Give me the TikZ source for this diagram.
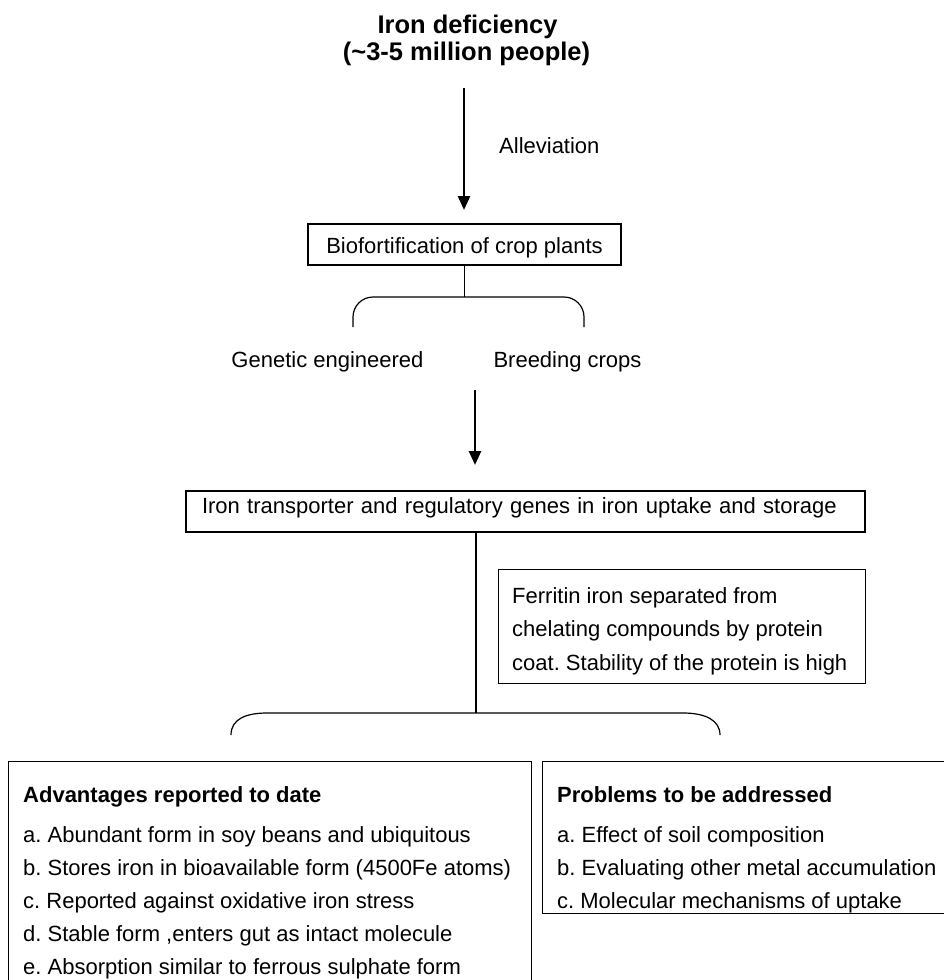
\documentclass[tikz,border=0pt]{standalone}
\usepackage{fontspec}
\setmainfont{Liberation Sans}
\usetikzlibrary{arrows.meta,positioning}
\frenchspacing

\tikzset{
  txt/.style={inner sep=0pt, font=\fontsize{22}{33}\selectfont},
  headtxt/.style={inner sep=0pt, font=\bfseries\fontsize{25.5}{27}\selectfont},
  frame/.style={draw, line width=1.3pt, inner sep=0pt, font=\fontsize{22}{33}\selectfont},
  listtxt/.style={txt, align=left},
  link/.style={line width=1.2pt},
  bigarrow/.style={line width=2.6pt, -{Triangle[width=12pt,length=14pt]}}
}

\begin{document}
\begin{tikzpicture}[x=1pt, y=-1pt]
    \useasboundingbox (0,0) rectangle (943,980);

    \node[headtxt, anchor=base] (title1) at (467.5,33) {Iron deficiency};
    \node[headtxt, anchor=base] (title2) at (466.5,60) {(\textasciitilde3-5 million people)};
    \node[txt, anchor=base west] (allev) at (499,153) {Alleviation};

    \node[frame, minimum width=313pt, text height=29pt, text depth=12pt] (bio) at (464.5,244.5) {Biofortification of crop plants};

    \node[txt, anchor=base] (gen) at (327.5,367) {Genetic engineered};
    \node[txt, anchor=base] (breed) at (567.5,367) {Breeding crops};

    \node[frame, text width=647pt, align=left, inner xsep=16pt, text height=22pt, text depth=19pt] (iron) at (525.5,511.5) {Iron transporter and regulatory genes in iron uptake and storage};

    \node[frame, anchor=north west, minimum width=367pt, minimum height=114pt] (ferrbox) at (498,569) {};
    \node[listtxt, font=\fontsize{22}{33.5}\selectfont, below right=18pt and 14pt of ferrbox.north west] (ferrtext) {Ferritin iron separated from\\chelating compounds by protein\\coat. Stability of the protein is high};

    \node[frame, anchor=north west, minimum width=523pt, minimum height=235pt] (advbox) at (8,761) {};
    \node[listtxt, below right=25pt and 15pt of advbox.north west] (advtext) {{\bfseries Advantages reported to date}\\[7pt]
      a. Abundant form in soy beans and ubiquitous\\
      b. Stores iron in bioavailable form (4500Fe atoms)\\
      c. Reported against oxidative iron stress\\
      d. Stable form ,enters gut as intact molecule\\
      e. Absorption similar to ferrous sulphate form};

    \node[frame, anchor=north west, minimum width=412pt, minimum height=152pt] (probbox) at (542,761) {};
    \node[listtxt, below right=25pt and 15pt of probbox.north west] (probtext) {{\bfseries Problems to be addressed}\\[7pt]
      a. Effect of soil composition\\
      b. Evaluating other metal accumulation\\
      c. Molecular mechanisms of uptake};

    % arrows
    \coordinate (a1s) at (464,88);
    \coordinate (a1e) at (464,210);
    \coordinate (a2s) at (475,390);
    \coordinate (a2e) at (475,465);
    \draw[bigarrow] (a1s) -- (a1e);
    \draw[bigarrow] (a2s) -- (a2e);

    % braces
    \coordinate (br1) at (464.5,297);
    \coordinate (br2) at (476,713);
    \draw[link] (bio.south -| br1) -- (br1);
    \draw[link, rounded corners=20pt] (353,327) -- (353,297) -- (584,297) -- (584,327);
    \draw[link] (iron.south -| br2) -- (br2);
    \draw[link] (231,735) .. controls (231,719) and (246,713) .. (267,713) -- (683,713) .. controls (705,713) and (720,720) .. (720,735);
\end{tikzpicture}
\end{document}
